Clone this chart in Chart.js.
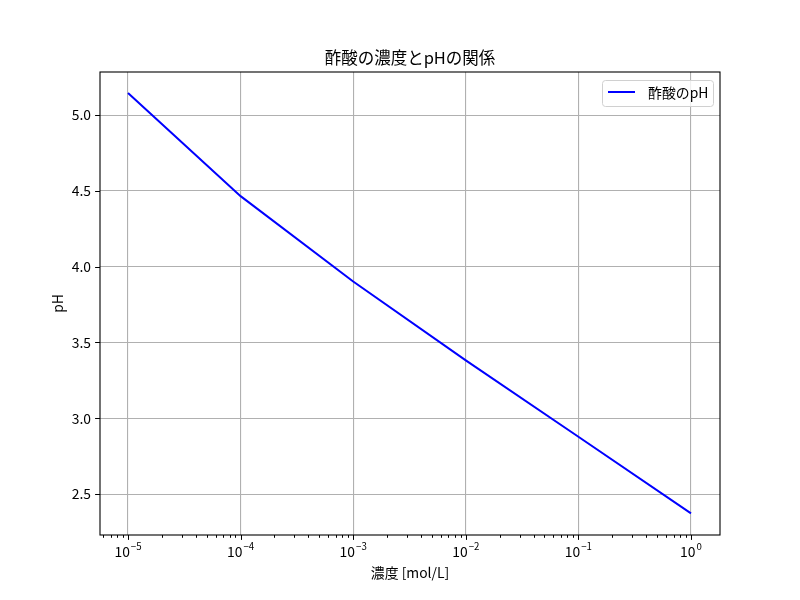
<!DOCTYPE html>
<html>
<head>
<meta charset="utf-8">
<script src="https://cdn.jsdelivr.net/npm/chart.js@4"></script>
<style>
  html, body { margin: 0; padding: 0; background: #fff; }
  #wrap { width: 800px; height: 600px; }
</style>
</head>
<body>
<div id="wrap"><canvas id="chartPH"></canvas></div>
<script>
// datos
const concentraciones = [1e-5, 1e-4, 1e-3, 1e-2, 1e-1, 1];
const valoresPH = [5.145, 4.465, 3.902, 3.382, 2.878, 2.373];
const ticksY = [2.5, 3.0, 3.5, 4.0, 4.5, 5.0];
const decadasX = [-6, -5, -4, -3, -2, -1, 0];
const etiquetaSerie = '酢酸のpH';
const titulo = '酢酸の濃度とpHの関係';

const fuente = '"Noto Sans CJK JP", "DejaVu Sans", sans-serif';

function esMayor(v) {
  const e = Math.log10(v);
  return Math.abs(e - Math.round(e)) < 1e-9;
}

// marcas de eje al estilo matplotlib + marco + leyenda + titulo
const estiloMpl = {
  id: 'estiloMpl',
  afterDraw(chart) {
    const { ctx, chartArea: a, scales: { x, y } } = chart;
    ctx.save();
    ctx.strokeStyle = '#000';
    ctx.lineWidth = 1;
    ctx.beginPath();
    x.ticks.forEach(t => {
      const px = Math.round(x.getPixelForValue(t.value)) + 0.5;
      const len = esMayor(t.value) ? 4.9 : 2.8;
      ctx.moveTo(px, a.bottom);
      ctx.lineTo(px, a.bottom + len);
    });
    y.ticks.forEach(t => {
      const py = Math.round(y.getPixelForValue(t.value)) + 0.5;
      ctx.moveTo(a.left, py);
      ctx.lineTo(a.left - 4.9, py);
    });
    ctx.stroke();

    ctx.lineWidth = 1.1;
    ctx.strokeRect(a.left, a.top, a.right - a.left, a.bottom - a.top);

    // etiquetas 10^n del eje x
    ctx.fillStyle = '#000';
    ctx.textBaseline = 'alphabetic';
    ctx.textAlign = 'left';
    x.ticks.forEach(t => {
      if (!esMayor(t.value)) return;
      const e = Math.round(Math.log10(t.value));
      const exp = (e < 0 ? '\u2212' : '') + Math.abs(e);
      ctx.font = '13.9px ' + fuente;
      const wb = ctx.measureText('10').width;
      ctx.font = '9.7px ' + fuente;
      const we = ctx.measureText(exp).width;
      const x0 = x.getPixelForValue(t.value) - (wb + we + 1) / 2;
      ctx.font = '13.9px ' + fuente;
      ctx.fillText('10', x0, a.bottom + 22);
      ctx.font = '9.7px ' + fuente;
      ctx.fillText(exp, x0 + wb + 1, a.bottom + 15);
    });

    // titulo centrado sobre el area del grafico
    ctx.font = '16.5px ' + fuente;
    ctx.textAlign = 'center';
    ctx.textBaseline = 'middle';
    ctx.fillText(titulo, (a.left + a.right) / 2, 58);

    // leyenda
    const bx = a.right - 118, by = a.top + 8, bw = 111, bh = 26;
    ctx.fillStyle = 'rgba(255,255,255,0.8)';
    ctx.strokeStyle = '#d0d0d0';
    ctx.lineWidth = 1;
    ctx.beginPath();
    ctx.roundRect(bx + 0.5, by + 0.5, bw, bh, 3);
    ctx.fill();
    ctx.stroke();
    ctx.strokeStyle = '#0000ff';
    ctx.lineWidth = 2;
    ctx.beginPath();
    ctx.moveTo(bx + 6, by + 12);
    ctx.lineTo(bx + 33, by + 12);
    ctx.stroke();
    ctx.fillStyle = '#000';
    ctx.font = '13.9px ' + fuente;
    ctx.textAlign = 'left';
    ctx.textBaseline = 'middle';
    ctx.fillText(etiquetaSerie, bx + 46, by + 12.5);
    ctx.restore();
  }
};

new Chart(document.getElementById('chartPH'), {
  type: 'line',
  data: {
    datasets: [{
      label: etiquetaSerie,
      data: concentraciones.map((c, i) => ({ x: c, y: valoresPH[i] })),
      borderColor: '#0000ff',
      borderWidth: 2,
      pointRadius: 0,
      tension: 0,
      fill: false
    }]
  },
  options: {
    responsive: true,
    maintainAspectRatio: false,
    animation: false,
    layout: { padding: { left: 0, right: 80, top: 72, bottom: 0 } },
    plugins: {
      legend: { display: false },
      tooltip: { enabled: false },
      title: { display: false }
    },
    scales: {
      x: {
        type: 'logarithmic',
        min: 5.64e-6,
        max: 1.81,
        afterBuildTicks(scale) {
          const t = [];
          decadasX.forEach(e => {
            for (let m = 1; m <= 9; m++) {
              const v = m * Math.pow(10, e);
              if (v >= scale.min && v <= scale.max) t.push({ value: v });
            }
          });
          scale.ticks = t;
        },
        afterFit(scale) { scale.height = 65; },
        grid: {
          color: ctx => (ctx.tick && esMayor(ctx.tick.value)) ? '#b0b0b0' : 'rgba(0,0,0,0)',
          lineWidth: 1.1,
          tickLength: 5,
          tickColor: 'rgba(0,0,0,0)',
          drawOnChartArea: true
        },
        border: { display: false },
        ticks: {
          autoSkip: false,
          maxRotation: 0,
          padding: 3,
          color: '#000',
          font: { family: fuente, size: 13.9 },
          callback: () => ''
        },
        title: {
          display: true,
          text: '濃度 [mol/L]',
          color: '#000',
          font: { family: fuente, size: 13.9 },
          padding: { top: 0, bottom: 18.5 }
        }
      },
      y: {
        min: 2.23,
        max: 5.284,
        afterBuildTicks(scale) {
          scale.ticks = ticksY.map(v => ({ value: v }));
        },
        afterFit(scale) { scale.width = 100; },
        grid: {
          color: '#b0b0b0',
          lineWidth: 1.1,
          tickLength: 5,
          tickColor: 'rgba(0,0,0,0)'
        },
        border: { display: false },
        ticks: {
          padding: 4,
          color: '#000',
          font: { family: fuente, size: 13.9 },
          callback: v => Number(v).toFixed(1)
        },
        title: {
          display: true,
          text: 'pH',
          color: '#000',
          font: { family: fuente, size: 13.9 },
          padding: { top: 49.5, bottom: 0 }
        }
      }
    }
  },
  plugins: [estiloMpl]
});
</script>
</body>
</html>
